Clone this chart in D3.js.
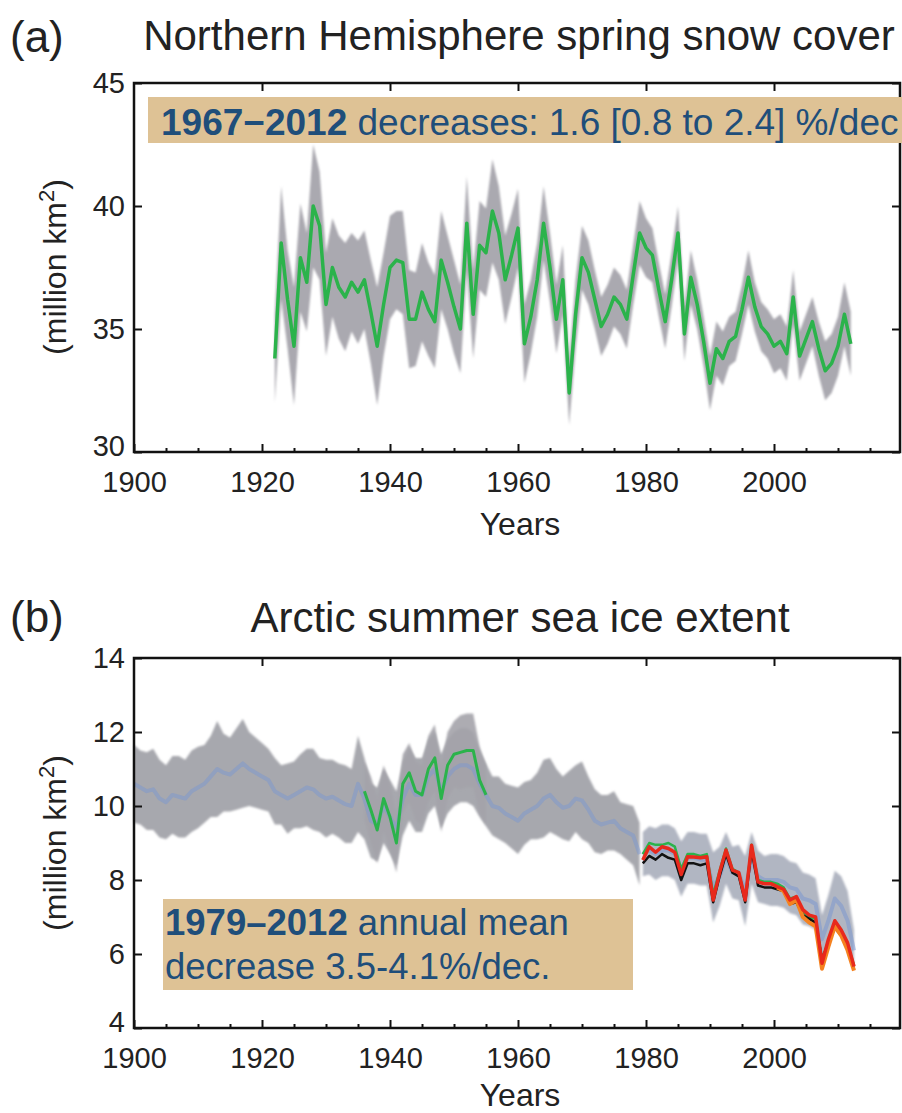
<!DOCTYPE html>
<html>
<head>
<meta charset="utf-8">
<script src="https://cdn.jsdelivr.net/npm/d3@7"></script>
<style>
  body { margin: 0; background: #fff; }
  svg { display: block; font-family: "Liberation Sans", Arial, Helvetica, sans-serif; }
</style>
</head>
<body>
<script>
// (a) snow cover, 1922-2012, million km2
const snowStart = 1922;
const snowValues = [
  33.8, 38.5, 36.2, 34.3, 37.9, 36.9, 40.0, 39.2, 36.0, 37.5,
  36.7, 36.3, 36.9, 36.5, 37.0, 35.7, 34.3, 36.0, 37.5, 37.8,
  37.7, 35.4, 35.4, 36.5, 35.8, 35.3, 37.8, 36.9, 35.9, 35.0,
  39.3, 35.6, 38.4, 38.1, 39.8, 38.9, 37.0, 38.0, 39.1, 34.4,
  35.5, 37.0, 39.3, 37.5, 35.4, 37.0, 32.4, 35.6, 37.9, 37.3,
  36.2, 35.1, 35.6, 36.3, 36.0, 35.4, 37.2, 38.9, 38.3, 38.0,
  36.6, 35.3, 37.0, 38.9, 34.8, 37.1, 36.0, 34.5, 32.8, 34.2,
  33.8, 34.5, 34.7, 35.8, 37.1, 35.9, 35.1, 34.8, 34.3, 34.5,
  34.0, 36.3, 33.9, 34.6, 35.3, 34.2, 33.3, 33.6, 34.3, 35.6,
  34.4
];
// half width of the grey uncertainty band
const snowSpread = [
  1.8, 2.3, 2.0, 2.4, 2.2, 2.0, 2.5, 2.2, 2.1, 2.0,
  2.1, 2.2, 2.0, 2.1, 2.0, 2.1, 2.4, 2.1, 2.1, 2.0,
  2.1, 2.0, 1.9, 2.0, 1.9, 1.9, 2.0, 1.9, 1.9, 1.8,
  1.9, 1.8, 1.8, 1.8, 2.1, 1.9, 1.8, 1.7, 1.6, 1.6,
  1.5, 1.5, 1.5, 1.4, 1.4, 1.4, 1.3, 1.4, 1.3, 1.3,
  1.2, 1.2, 1.2, 1.2, 1.2, 1.2, 1.2, 1.3, 1.2, 1.1,
  1.1, 1.1, 1.1, 1.1, 1.1, 1.1, 1.0, 1.0, 1.1, 1.1,
  1.1, 1.0, 1.0, 1.0, 1.1, 1.0, 1.0, 1.0, 1.1, 1.1,
  1.1, 1.1, 1.0, 1.0, 1.0, 1.1, 1.2, 1.2, 1.2, 1.3,
  1.3
];

// (b) sea ice, long reconstruction 1900-1979
const iceStart = 1900;
const iceMain = [
  10.6, 10.5, 10.4, 10.45, 10.2, 10.1, 10.3, 10.25, 10.2, 10.4,
  10.5, 10.6, 10.8, 11.0, 10.9, 10.85, 11.0, 11.15, 11.0, 10.9,
  10.8, 10.7, 10.4, 10.3, 10.2, 10.3, 10.4, 10.5, 10.45, 10.3,
  10.2, 10.25, 10.15, 10.05, 10.0, 10.6, 10.2, 9.6, 9.5, 10.0,
  9.7, 9.4, 10.2, 10.6, 10.3, 10.3, 10.8, 11.0, 10.4, 10.8,
  11.0, 11.1, 11.1, 11.0, 10.6, 10.3, 10.0, 9.95, 9.8, 9.7,
  9.6, 9.8, 9.9, 10.0, 10.2, 10.3, 10.1, 9.95, 10.0, 10.2,
  10.15, 9.9, 9.6, 9.5, 9.55, 9.6, 9.4, 9.3, 9.2, 8.7
];
const iceMainSpread = [
  1.05, 1.0, 1.05, 1.1, 1.05, 1.0, 1.05, 1.1, 1.05, 1.1,
  1.1, 1.05, 1.1, 1.3, 1.05, 1.0, 1.1, 1.2, 1.0, 0.95,
  0.9, 0.85, 0.9, 0.8, 0.95, 0.9, 1.0, 1.05, 1.1, 1.0,
  1.05, 1.0, 1.0, 1.05, 1.0, 1.3, 1.1, 1.0, 1.0, 1.0,
  1.0, 1.0, 1.0, 1.0, 1.0, 1.0, 1.0, 1.0, 1.0, 1.0,
  1.0, 1.0, 1.0, 1.0, 0.9, 0.85, 0.8, 0.85, 0.8, 0.85,
  0.9, 0.85, 0.8, 0.9, 1.05, 1.0, 0.9, 0.85, 0.95, 0.9,
  1.05, 0.9, 0.85, 0.8, 0.75, 0.8, 0.7, 0.75, 0.8, 0.85
];

// green series 1936-1955
const iceGreenStart = 1936;
const iceGreen = [10.4, 9.9, 9.35, 10.2, 9.7, 9.0, 10.6, 10.9, 10.4, 10.3,
                  11.0, 11.3, 10.2, 11.1, 11.4, 11.45, 11.5, 11.5, 10.7, 10.3];
const iceGreenSpread = [0.8, 0.9, 0.9, 0.9, 0.9, 0.8, 0.8, 0.8, 0.8, 0.8,
                        0.9, 0.9, 0.9, 0.9, 0.9, 1.0, 1.0, 1.0, 0.9, 0.8];

// satellite era 1979-2012 (plotted mid-year)
const satStart = 1979;
const satBlue = [
  8.7, 8.8, 8.7, 8.8, 8.8, 8.7, 8.3, 8.6, 8.6, 8.55,
  8.55, 7.8, 8.1, 8.6, 8.2, 8.2, 7.7, 8.6, 8.1, 8.0,
  8.0, 8.0, 7.95, 7.8, 7.75, 7.5, 7.45, 7.35, 6.4, 6.9,
  7.5, 7.3, 6.9, 6.1
];
const satSpread = [
  0.6, 0.65, 0.7, 0.7, 0.7, 0.7, 0.75, 0.7, 0.7, 0.7,
  0.7, 0.95, 0.8, 0.7, 0.7, 0.75, 0.95, 0.7, 0.7, 0.65,
  0.7, 0.7, 0.7, 0.7, 0.7, 0.7, 0.7, 0.7, 0.65, 0.7,
  0.75, 0.8, 0.8, 0.55
];
const satGreen = [
  8.7, 9.0, 8.95, 8.95, 9.0, 8.9, 8.3, 8.7, 8.7, 8.65,
  8.7, 7.6, 8.25, 8.85, 8.3, 8.2, 7.5, 8.95, 8.0, 7.95,
  7.95, 7.9, 7.8, 7.5, 7.55, 7.15, 7.0, 6.95, 5.85, 6.35,
  6.85, 6.6, 6.25, 5.7
];
const satBlack = [
  8.45, 8.65, 8.55, 8.7, 8.6, 8.55, 8.0, 8.45, 8.45, 8.4,
  8.45, 7.4, 8.1, 8.7, 8.2, 8.1, 7.4, 8.8, 7.85, 7.8,
  7.8, 7.75, 7.7, 7.35, 7.4, 7.05, 6.95, 6.85, 5.85, 6.3,
  6.7, 6.5, 6.2, 5.6
];
const satRed = [
  8.54, 8.9, 8.75, 8.9, 8.85, 8.75, 8.15, 8.63, 8.62, 8.6,
  8.63, 7.46, 8.2, 8.81, 8.27, 8.2, 7.46, 8.94, 7.95, 7.9,
  7.9, 7.82, 7.75, 7.46, 7.55, 7.2, 7.05, 7.0, 5.75, 6.4,
  6.9, 6.65, 6.3, 5.66
];
const orangeStart = 2000;
const satOrange = [7.8, 7.7, 7.35, 7.45, 7.0, 6.85, 6.75, 5.6, 6.2, 6.75, 6.5, 6.1, 5.55];

const xMajor = [1900, 1920, 1940, 1960, 1980, 2000];
const xTop = [1920, 1940, 1960, 1980, 2000];
const xMinor = d3.range(1905, 2020, 5);
const snowTicks = [30, 35, 40, 45];
const iceTicks = [4, 6, 8, 10, 12, 14];

const width = 902, height = 1113;
const navy = "#1f4e7a";
const tan = "#dec295";

const svg = d3.select("body").append("svg")
  .attr("width", width)
  .attr("height", height);

const defs = svg.append("defs");
defs.append("filter").attr("id", "soft")
  .append("feGaussianBlur").attr("stdDeviation", 1.3);

const x = d3.scaleLinear().domain([1900, 2020]).range([134, 902]);
const frameRight = 900;

function toPoints(start, vals, spread, offset) {
  return vals.map((v, i) => ({ yr: start + i + (offset || 0), v: v, h: spread ? spread[i] : 0 }));
}

function drawAxes(y, ticks, top, bottom) {
  const g = svg.append("g");
  // bottom major ticks + labels
  g.append("g").attr("transform", `translate(0,${bottom})`)
    .call(d3.axisBottom(x).tickValues(xMajor).tickSize(-8).tickPadding(19).tickFormat(d3.format("d")));
  // bottom minor ticks
  g.append("g").attr("transform", `translate(0,${bottom})`)
    .call(d3.axisBottom(x).tickValues(xMinor.filter(d => xMajor.indexOf(d) < 0)).tickSize(-4).tickFormat(""));
  // top ticks
  g.append("g").attr("transform", `translate(0,${top})`)
    .call(d3.axisTop(x).tickValues(xTop).tickSize(-8).tickFormat(""));
  // left ticks + labels
  const left = g.append("g").attr("transform", `translate(${x(1900)},0)`)
    .call(d3.axisLeft(y).tickValues(ticks).tickSize(-8).tickPadding(9).tickFormat(d3.format("d")));
  // lowest label sits a little higher, clear of the year labels
  left.selectAll(".tick text").filter(d => d === ticks[0]).attr("dy", "0.12em");
  // right ticks
  g.append("g").attr("transform", `translate(${frameRight},0)`)
    .call(d3.axisRight(y).tickValues(ticks).tickSize(-8).tickFormat(""));

  g.selectAll(".domain").remove();
  g.selectAll(".tick line").attr("stroke", "#111").attr("stroke-width", 2);
  g.selectAll(".tick text").attr("font-size", 29).attr("fill", "#222")
    .attr("font-family", "Liberation Sans, Arial, sans-serif");

  // frame
  svg.append("rect")
    .attr("x", x(1900)).attr("y", top)
    .attr("width", frameRight - x(1900)).attr("height", bottom - top)
    .attr("fill", "none").attr("stroke", "#111").attr("stroke-width", 2.5);
}

function yLabel(cy) {
  const t = svg.append("text")
    .attr("transform", `translate(66,${cy}) rotate(-90)`)
    .attr("text-anchor", "middle")
    .attr("font-size", 32).attr("fill", "#222");
  t.append("tspan").text("(million km");
  t.append("tspan").text("2").attr("font-size", 22).attr("baseline-shift", "super");
  t.append("tspan").text(")");
}

function band(data, y, fill, opacity) {
  const area = d3.area()
    .x(d => x(d.yr))
    .y0(d => y(d.v - d.h))
    .y1(d => y(d.v + d.h));
  svg.append("path").datum(data)
    .attr("d", area)
    .attr("fill", fill)
    .attr("fill-opacity", opacity)
    .attr("filter", "url(#soft)");
}

function line(data, y, color, w, opacity) {
  const ln = d3.line().x(d => x(d.yr)).y(d => y(d.v));
  svg.append("path").datum(data)
    .attr("d", ln)
    .attr("fill", "none")
    .attr("stroke", color)
    .attr("stroke-width", w)
    .attr("stroke-opacity", opacity || 1)
    .attr("stroke-linejoin", "round");
}

// ---------- panel (a) ----------
const ya = d3.scaleLinear().domain([30, 45]).range([452, 83]);

svg.append("text").attr("x", 10).attr("y", 52).attr("font-size", 44).attr("fill", "#222").text("(a)");
svg.append("text").attr("x", 519).attr("y", 50).attr("text-anchor", "middle")
  .attr("font-size", 42).attr("fill", "#222").text("Northern Hemisphere spring snow cover");

const snow = toPoints(snowStart, snowValues, snowSpread);
band(snow, ya, "#aaa9b0", 1);
line(snow, ya, "#2bb34b", 3.5);

drawAxes(ya, snowTicks, 83, 452);
yLabel(267);
svg.append("text").attr("x", 520).attr("y", 535).attr("text-anchor", "middle")
  .attr("font-size", 32).attr("fill", "#222").text("Years");

svg.append("rect").attr("x", 148).attr("y", 97).attr("width", 754).attr("height", 46).attr("fill", tan);
const ta = svg.append("text").attr("x", 161).attr("y", 135).attr("font-size", 37).attr("fill", navy);
ta.append("tspan").attr("font-weight", "bold").text("1967\u22122012");
ta.append("tspan").text(" decreases: 1.6 [0.8 to 2.4] %/dec");

// ---------- panel (b) ----------
const yb = d3.scaleLinear().domain([4, 14]).range([1028, 658]);

svg.append("text").attr("x", 10).attr("y", 632).attr("font-size", 44).attr("fill", "#222").text("(b)");
svg.append("text").attr("x", 520).attr("y", 632).attr("text-anchor", "middle")
  .attr("font-size", 42).attr("fill", "#222").text("Arctic summer sea ice extent");

const main = toPoints(iceStart, iceMain, iceMainSpread);
const green = toPoints(iceGreenStart, iceGreen, iceGreenSpread);
const sat = toPoints(satStart, satBlue, satSpread, 0.5);

band(main, yb, "#a7a8ae", 1);
band(green, yb, "#a4a3aa", 0.9);
band(sat, yb, "#a9aebb", 0.9);
line(main, yb, "#7c98d0", 4, 0.5);
line(sat, yb, "#7c98d0", 4, 0.55);
line(green, yb, "#2bb34b", 3);
line(toPoints(satStart, satGreen, null, 0.5), yb, "#2bb34b", 2.5);
line(toPoints(satStart, satBlack, null, 0.5), yb, "#111", 2.5);
line(toPoints(orangeStart, satOrange, null, 0.5), yb, "#f58220", 4);
line(toPoints(satStart, satRed, null, 0.5), yb, "#e8291c", 3.5);

drawAxes(yb, iceTicks, 658, 1028);
yLabel(843);
svg.append("text").attr("x", 520).attr("y", 1106).attr("text-anchor", "middle")
  .attr("font-size", 32).attr("fill", "#222").text("Years");

svg.append("rect").attr("x", 163).attr("y", 899).attr("width", 470).attr("height", 91).attr("fill", tan);
const tb = svg.append("text").attr("font-size", 36.5).attr("fill", navy);
tb.append("tspan").attr("x", 165).attr("y", 935).attr("font-weight", "bold").text("1979\u20132012");
tb.append("tspan").text(" annual mean");
tb.append("tspan").attr("x", 165).attr("y", 979).text("decrease 3.5-4.1%/dec.");
</script>
</body>
</html>
